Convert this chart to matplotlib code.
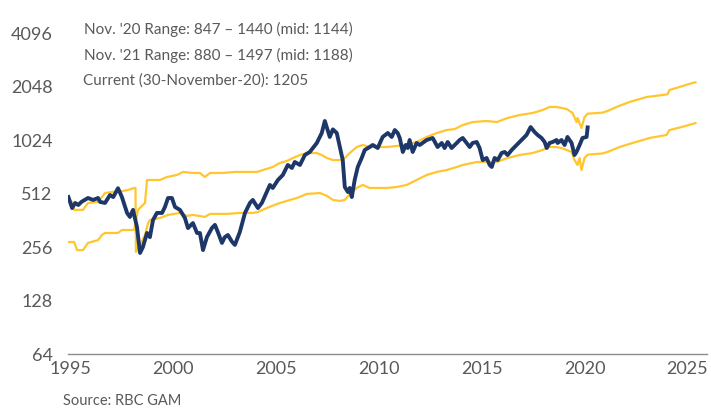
import matplotlib
matplotlib.use("Agg")
import matplotlib.pyplot as plt
from matplotlib.ticker import FixedLocator, NullLocator

# index level (log2 scale), 1995 -> 30 Nov 2020
index_years = [
    1994.92, 1995.10, 1995.25, 1995.40, 1995.55, 1995.87, 1996.12, 1996.36, 1996.46, 1996.70,
    1996.94, 1997.10, 1997.33, 1997.52, 1997.77, 1997.91, 1998.06, 1998.25, 1998.40, 1998.54,
    1998.74, 1998.88, 1999.03, 1999.22, 1999.47, 1999.61, 1999.76, 1999.95, 2000.10, 2000.34,
    2000.58, 2000.73, 2000.97, 2001.17, 2001.31, 2001.46, 2001.65, 2001.89, 2002.04, 2002.18,
    2002.38, 2002.52, 2002.67, 2002.86, 2003.01, 2003.25, 2003.50, 2003.74, 2003.88, 2004.13,
    2004.32, 2004.56, 2004.71, 2004.85, 2005.10, 2005.34, 2005.58, 2005.78, 2005.92, 2006.17,
    2006.41, 2006.65, 2006.99, 2007.23, 2007.38, 2007.62, 2007.77, 2007.96, 2008.11, 2008.25,
    2008.35, 2008.50, 2008.59, 2008.69, 2008.83, 2008.98, 2009.17, 2009.32, 2009.56, 2009.71,
    2009.95, 2010.19, 2010.44, 2010.63, 2010.78, 2010.92, 2011.02, 2011.17, 2011.31, 2011.41,
    2011.50, 2011.65, 2011.84, 2011.99, 2012.33, 2012.62, 2012.86, 2013.06, 2013.20, 2013.35,
    2013.54, 2013.79, 2013.93, 2014.08, 2014.27, 2014.42, 2014.56, 2014.76, 2014.90, 2015.05,
    2015.24, 2015.39, 2015.49, 2015.63, 2015.78, 2015.97, 2016.12, 2016.26, 2016.46, 2016.70,
    2016.94, 2017.18, 2017.38, 2017.57, 2017.72, 2017.91, 2018.06, 2018.16, 2018.30, 2018.45,
    2018.64, 2018.69, 2018.88, 2019.03, 2019.17, 2019.37, 2019.51, 2019.61, 2019.76, 2019.90,
    2020.10, 2020.15,
]
index_vals = [
    489, 424, 453, 441, 459, 483, 471, 483, 459, 453,
    502, 489, 548, 489, 398, 378, 414, 332, 237, 256,
    307, 291, 363, 398, 398, 430, 483, 483, 430, 414,
    373, 327, 349, 307, 307, 246, 291, 327, 341, 311,
    270, 291, 299, 275, 263, 311, 398, 453, 471, 424,
    453, 522, 572, 550, 610, 651, 741, 713, 770, 741,
    843, 877, 985, 1121, 1310, 1065, 1175, 1121, 935, 790,
    557, 522, 550, 489, 610, 722, 811, 900, 935, 960,
    923, 1065, 1121, 1065, 1165, 1121, 1051, 877, 960, 923,
    1024, 877, 985, 960, 1024, 1051, 935, 985, 923, 998,
    923, 985, 1024, 1051, 985, 935, 985, 998, 923, 790,
    811, 741, 722, 811, 790, 865, 877, 843, 900, 960,
    1024, 1093, 1211, 1136, 1093, 1051, 998, 923, 985, 998,
    1024, 985, 1024, 960, 1065, 985, 843, 877, 960, 1051,
    1065, 1205,
]

# valuation band lines; the two lines swap places in mid-1998
band_a_years = [
    1994.92, 1995.10, 1995.20, 1995.63, 1995.87, 1996.36, 1996.55, 1996.70, 1997.04, 1997.57,
    1997.82, 1998.11, 1998.18, 1998.20, 1998.40, 1998.64, 1998.79, 1998.88, 1999.37, 1999.76,
    2000.34, 2000.68, 2000.97, 2001.55, 2001.80, 2002.62, 2003.25, 2003.88, 2004.13, 2004.56,
    2005.05, 2005.53, 2006.02, 2006.50, 2007.14, 2007.48, 2007.77, 2008.11, 2008.35, 2008.69,
    2008.93, 2009.22, 2009.56, 2010.39, 2010.87, 2011.36, 2011.84, 2012.33, 2012.82, 2013.30,
    2013.79, 2014.08, 2014.76, 2015.73, 2016.26, 2016.84, 2017.48, 2017.96, 2018.30, 2018.64,
    2018.88, 2019.37, 2019.51, 2019.66, 2019.76, 2019.85, 2020.00, 2020.15, 2020.87, 2021.15,
    2021.70, 2022.33, 2023.16, 2023.98, 2024.13, 2024.71, 2025.24, 2025.39,
]
band_a_vals = [
    471, 459, 414, 414, 453, 459, 489, 515, 522, 529,
    536, 550, 550, 240, 263, 299, 349, 363, 373, 388,
    398, 383, 388, 378, 393, 393, 398, 398, 403, 424,
    447, 465, 483, 509, 515, 497, 471, 465, 471, 522,
    550, 572, 550, 550, 557, 572, 610, 651, 677, 694,
    722, 741, 770, 770, 811, 843, 865, 900, 935, 935,
    923, 877, 790, 741, 811, 694, 811, 847, 860, 880,
    935, 985, 1051, 1093, 1165, 1211, 1259, 1275,
]

band_b_years = [
    1994.92, 1995.20, 1995.34, 1995.63, 1995.87, 1996.36, 1996.55, 1996.70, 1997.33, 1997.52,
    1998.11, 1998.30, 1998.64, 1998.74, 1999.37, 1999.71, 2000.19, 2000.49, 2000.97, 2001.31,
    2001.55, 2001.80, 2002.38, 2003.01, 2004.08, 2004.37, 2004.85, 2005.19, 2005.53, 2005.83,
    2006.17, 2006.50, 2006.99, 2007.23, 2007.48, 2007.77, 2008.20, 2008.35, 2008.59, 2008.93,
    2009.22, 2009.56, 2010.39, 2010.87, 2011.36, 2011.84, 2012.33, 2012.82, 2013.30, 2013.69,
    2014.08, 2014.56, 2015.24, 2015.73, 2016.26, 2016.84, 2017.48, 2017.96, 2018.30, 2018.64,
    2019.13, 2019.42, 2019.61, 2019.66, 2019.85, 2020.00, 2020.15, 2020.87, 2021.15, 2021.55,
    2022.18, 2023.01, 2023.79, 2024.03, 2024.13, 2024.61, 2025.24, 2025.39,
]
band_b_vals = [
    273, 273, 246, 246, 270, 280, 299, 307, 307, 319,
    319, 414, 453, 610, 610, 634, 651, 677, 668, 668,
    634, 668, 668, 677, 677, 694, 722, 760, 780, 811,
    843, 865, 865, 843, 811, 790, 790, 811, 865, 935,
    960, 935, 935, 948, 960, 998, 1065, 1121, 1165, 1180,
    1243, 1292, 1310, 1292, 1362, 1415, 1453, 1510, 1571, 1571,
    1530, 1453, 1292, 1362, 1196, 1379, 1440, 1460, 1497, 1571,
    1675, 1787, 1834, 1850, 1958, 2035, 2142, 2160,
]

y_ticks = [64, 128, 256, 512, 1024, 2048, 4096]
x_ticks = [1995, 2000, 2005, 2010, 2015, 2020, 2025]

notes = [
    "Nov. '20 Range: 847 \u2013 1440 (mid: 1144)",
    "Nov. '21 Range: 880 \u2013 1497 (mid: 1188)",
    "Current (30-November-20): 1205",
]

NAVY = "#1d3768"
GOLD = "#ffc62f"
GREY = "#595959"

plt.rcParams["font.family"] = ["Lato", "DejaVu Sans"]

fig = plt.figure(figsize=(7.11, 4.12), dpi=100)
ax = fig.add_axes([68 / 711, 58 / 412, 639 / 711, 321 / 412])

ax.plot(band_a_years, band_a_vals, color=GOLD, lw=1.6, zorder=2)
ax.plot(band_b_years, band_b_vals, color=GOLD, lw=1.6, zorder=2)
ax.plot(index_years, index_vals, color=NAVY, lw=2.8, zorder=3)

ax.set_yscale("log", base=2)
ax.set_ylim(64, 4096)
ax.set_xlim(1994.9, 2025.95)
ax.yaxis.set_major_locator(FixedLocator(y_ticks))
ax.yaxis.set_minor_locator(NullLocator())
ax.set_yticklabels([str(t) for t in y_ticks])
ax.set_xticks(x_ticks)
ax.set_xticklabels([str(t) for t in x_ticks], fontsize=13)

ax.tick_params(axis="y", length=0, pad=11, labelsize=13, labelcolor=GREY)
ax.tick_params(axis="x", length=0, pad=5, labelcolor=GREY)

for side in ["top", "right", "left"]:
    ax.spines[side].set_visible(False)
ax.spines["bottom"].set_color("#8c8c8c")
ax.spines["bottom"].set_linewidth(1.0)

for i, (txt, xpx) in enumerate(zip(notes, [84, 84, 83])):
    fig.text(xpx / 711, 1 - (29 + 26 * i) / 412, txt, fontsize=11,
             color=GREY, va="center", ha="left")

fig.text(63 / 711, 1 - 401 / 412, "Source: RBC GAM", fontsize=10.5,
         color=GREY, va="center", ha="left")

fig.savefig("out.png", dpi=100)
